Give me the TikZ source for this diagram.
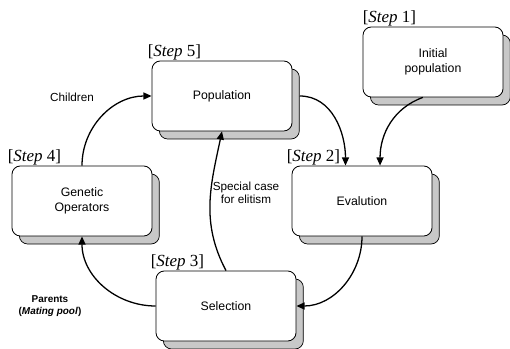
\documentclass[tikz,border=0pt]{standalone}
\usepackage{fontspec}
\setmainfont{Liberation Sans}
\newfontfamily\stepfont{Liberation Serif}
\usepackage{xcolor}
\usepackage{tikz}
\usetikzlibrary{arrows.meta,shadows}
\definecolor{shade}{HTML}{C8C8C8}
\tikzset{
  stagebox/.style={draw, line width=0.7pt, fill=white, rounded corners=0.25cm,
    minimum width=4.2cm, minimum height=2.1cm, align=center,
    font=\fontsize{10.5}{13}\selectfont,
    copy shadow={shadow xshift=0.22cm, shadow yshift=-0.24cm, fill=shade, draw=black, line width=0.6pt}},
  steplab/.style={anchor=south west, inner sep=0pt, font=\stepfont\fontsize{14.5}{16}\selectfont},
  flow/.style={draw, line width=1.1pt, -{Triangle[length=7pt,width=6pt]}},
  lab/.style={align=center, font=\fontsize{10}{11.5}\selectfont},
}

\begin{document}
\begin{tikzpicture}[x=0.03cm, y=-0.03cm]
\useasboundingbox (0,0) rectangle (510,349);

% stages
\node[stagebox] (pop)  at (222,96)  {Population};
\node[stagebox] (init) at (433,62)  {Initial\\population};
\node[stagebox] (eval) at (362,201) {Evalution};
\node[stagebox] (gen)  at (82,201)  {Genetic\\Operators};
\node[stagebox] (sel)  at (226,306) {Selection};

% step labels
\node[steplab] (s1) at ([xshift=0cm]init.north west) {[\textit{Step} 1]};
\node[steplab] (s2) at ([xshift=-0.15cm]eval.north west) {[\textit{Step} 2]};
\node[steplab] (s3) at ([xshift=-0.15cm]sel.north west) {[\textit{Step} 3]};
\node[steplab] (s4) at ([xshift=-0.12cm]gen.north west) {[\textit{Step} 4]};
\node[steplab] (s5) at ([xshift=-0.12cm]pop.north west) {[\textit{Step} 5]};

% loop
\draw[flow] (gen.north) to[out=90, in=180] (pop.west);
\draw[flow] ([xshift=0.22cm]pop.east) to[out=0, in=90] (eval.115);
\draw[flow] (init.254) to[out=200, in=90] (eval.63);
\draw[flow] (eval.south) to[out=-90, in=0] (sel.east);
\draw[flow] (sel.west) to[out=180, in=-90] (gen.south);
\draw[flow] (sel.north) to[out=118, in=-102] (pop.south);

% connector labels
\node[lab] (child) at (72,97) {Children};
\node[lab] (elit) at (246,193) {Special case\\for elitism};
\node[lab, font=\bfseries\fontsize{8.5}{10.5}\selectfont] (par) at (50,306) {Parents\\(\textit{Mating pool})};
\end{tikzpicture}
\end{document}
